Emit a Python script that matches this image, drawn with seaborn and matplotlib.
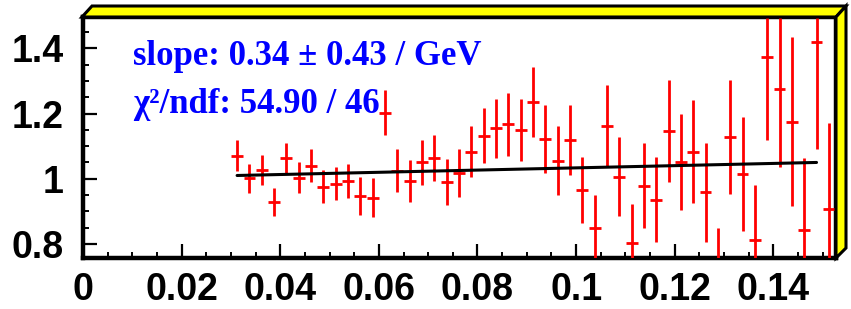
import numpy as np
import pandas as pd
import matplotlib
matplotlib.use('Agg')
import matplotlib.pyplot as plt
from matplotlib.patches import Polygon
from matplotlib.ticker import MultipleLocator, FuncFormatter
import seaborn as sns

# bin centres (GeV) and ratio values
bin_x = [0.03125, 0.03375, 0.03625, 0.03875, 0.04125, 0.04375, 0.04625, 0.04875,
         0.05125, 0.05375, 0.05625, 0.05875, 0.06125, 0.06375, 0.06625, 0.06875,
         0.07125, 0.07375, 0.07625, 0.07875, 0.08125, 0.08375, 0.08625, 0.08875,
         0.09125, 0.09375, 0.09625, 0.09875, 0.10125, 0.10375, 0.10625, 0.10875,
         0.11125, 0.11375, 0.11625, 0.11875, 0.12125, 0.12375, 0.12625, 0.12875,
         0.13125, 0.13375, 0.13625, 0.13875, 0.14125, 0.14375, 0.14625, 0.14875,
         0.15125]
ratio = [1.071, 1.001, 1.027, 0.929, 1.063, 1.003, 1.040, 0.976, 0.985, 0.992,
         0.946, 0.942, 1.203, 1.025, 0.994, 1.050, 1.063, 0.991, 1.017, 1.083,
         1.132, 1.155, 1.167, 1.149, 1.235, 1.122, 1.055, 1.118, 0.965, 0.850,
         1.162, 1.006, 0.804, 0.979, 0.936, 1.147, 1.051, 1.083, 0.958, 0.690,
         1.128, 1.015, 0.813, 1.374, 1.275, 1.175, 0.842, 1.419, 0.907]
ratio_err = [0.048, 0.045, 0.047, 0.044, 0.048, 0.047, 0.051, 0.051, 0.051, 0.052,
             0.058, 0.059, 0.069, 0.065, 0.065, 0.069, 0.071, 0.070, 0.073, 0.079,
             0.084, 0.091, 0.097, 0.096, 0.107, 0.104, 0.106, 0.107, 0.101, 0.100,
             0.124, 0.121, 0.118, 0.130, 0.130, 0.157, 0.148, 0.158, 0.152, 0.160,
             0.176, 0.174, 0.168, 0.255, 0.240, 0.259, 0.223, 0.328, 0.263]
bin_half_width = 0.0012

# linear fit
fit_intercept = 0.9994
fit_slope = 0.34
fit_range = [0.03125, 0.14875]
fit_text = ['slope: 0.34 \u00b1 0.43 / GeV', '\u03c7\u00b2/ndf: 54.90 / 46']

x_ticks = [0, 0.02, 0.04, 0.06, 0.08, 0.1, 0.12, 0.14]
y_ticks = [0.8, 1.0, 1.2, 1.4]

sns.set_style('ticks')
plt.rcParams['xtick.color'] = 'black'
plt.rcParams['ytick.color'] = 'black'
plt.rcParams['xtick.labelcolor'] = 'black'
plt.rcParams['ytick.labelcolor'] = 'black'
label_font = ['Liberation Sans', 'DejaVu Sans']
text_font = ['Liberation Serif', 'DejaVu Serif']

W, H = 851, 309
fig = plt.figure(figsize=(W / 100, H / 100), dpi=100)
x0, x1, y0, y1 = 83, 836, 258, 17
ax = fig.add_axes([x0 / W, 1 - y0 / H, (x1 - x0) / W, (y0 - y1) / H])

# 3D yellow frame border (top and right)
d = 10
edge_kw = dict(facecolor='#ffff00', edgecolor='black', lw=2.2,
               transform=None, zorder=5, clip_on=False)
top_band = Polygon([(x0 - 1, H - y1), (x0 + d - 1, H - y1 + d + 1),
                    (x1 + d, H - y1 + d + 1), (x1, H - y1)], **edge_kw)
right_band = Polygon([(x1, H - y1), (x1 + d, H - y1 + d + 1),
                      (x1 + d, H - y0 + d), (x1, H - y0)], **edge_kw)
fig.patches.extend([top_band, right_band])

df = pd.DataFrame({'x': bin_x, 'y': ratio, 'err': ratio_err})
ax.errorbar(df['x'], df['y'], yerr=df['err'], xerr=bin_half_width,
            fmt='none', ecolor='#ff0000', elinewidth=2.0, capsize=0, zorder=3)

fit_x = np.linspace(fit_range[0], fit_range[1], 50)
fit_df = pd.DataFrame({'x': fit_x, 'y': fit_intercept + fit_slope * fit_x})
sns.lineplot(data=fit_df, x='x', y='y', color='black', lw=2.2, ax=ax, zorder=4)

ax.set_xlim(0, 0.1527)
ax.set_ylim(0.757, 1.496)
ax.set_xticks(x_ticks)
ax.set_yticks(y_ticks)
ax.xaxis.set_minor_locator(MultipleLocator(0.005))
ax.yaxis.set_minor_locator(MultipleLocator(0.05))
ax.xaxis.set_major_formatter(FuncFormatter(lambda v, p: f'{v:g}'))
ax.yaxis.set_major_formatter(FuncFormatter(lambda v, p: f'{v:g}'))
ax.tick_params(which='major', direction='in', length=10, width=1.6,
               labelsize=27, top=False, right=False, colors='black')
ax.tick_params(which='minor', direction='in', length=4, width=1.4,
               top=False, right=False, colors='black')
ax.tick_params(axis='x', which='major', pad=10)
ax.tick_params(axis='y', which='major', pad=14)
for lab in ax.get_xticklabels() + ax.get_yticklabels():
    lab.set_family(label_font)
    lab.set_fontweight('bold')
    lab.set_color('black')
for side in ['left', 'bottom', 'top', 'right']:
    ax.spines[side].set_linewidth(3.2)
    ax.spines[side].set_color('black')
ax.set_xlabel('')
ax.set_ylabel('')

ax.text(133 / W, 1 - 65 / H, fit_text[0], transform=fig.transFigure,
        color='#0000ff', fontsize=25, fontweight='bold', family=text_font,
        ha='left', va='baseline')
ax.text(133 / W, 1 - 113 / H, fit_text[1], transform=fig.transFigure,
        color='#0000ff', fontsize=25, fontweight='bold', family=text_font,
        ha='left', va='baseline')

fig.savefig('out.png', dpi=100)
